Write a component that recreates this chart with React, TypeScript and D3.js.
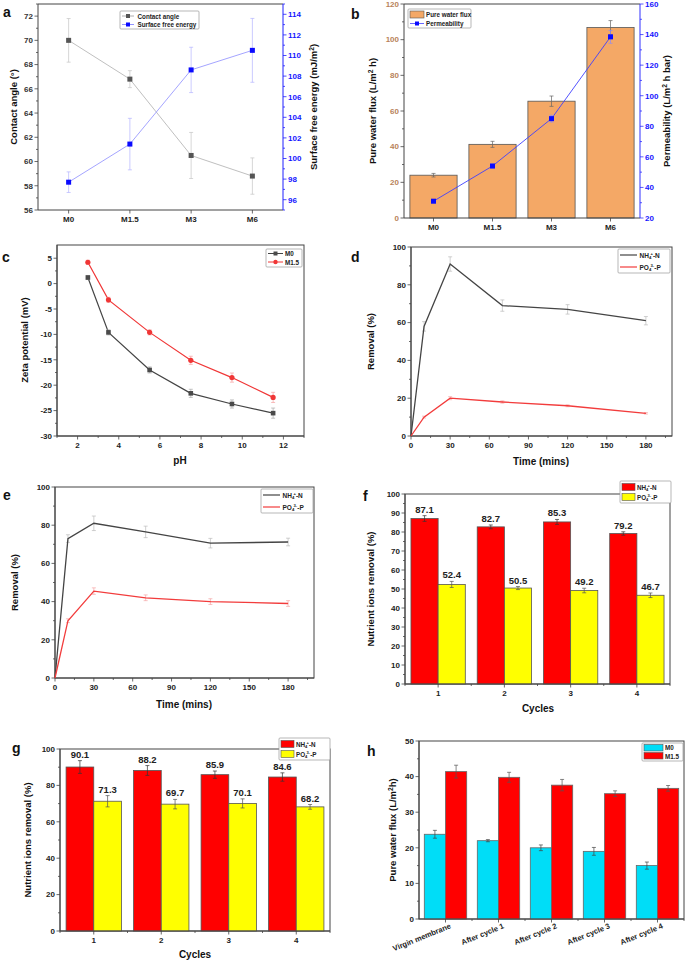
import React from "react";
import * as d3 from "d3";

const FONT = "'Liberation Sans', Arial, Helvetica, sans-serif";

// ---------- Panel a ----------
const aCats = ["M0", "M1.5", "M3", "M6"];
const aContact = [70, 66.8, 60.5, 58.8];
const aContactErr = [1.8, 0.7, 1.9, 1.5];
const aSFE = [97.7, 101.4, 108.6, 110.5];
const aSFEErr = [1.0, 2.5, 2.2, 3.1];

// ---------- Panel b ----------
const bCats = ["M0", "M1.5", "M3", "M6"];
const bFlux = [24, 41.3, 65.5, 106.8];
const bFluxErr = [1, 1.7, 2.9, 3.9];
const bPerm = [31, 54, 85, 138.5];
const bPermErr = [1, 1.3, 2.2, 4.2];

// ---------- Panel c ----------
const cPH = [2.5, 3.5, 5.5, 7.5, 9.5, 11.5];
const cM0 = [1.2, -9.6, -17, -21.6, -23.7, -25.5];
const cM0Err = [0.4, 0.5, 0.6, 0.8, 0.8, 1.0];
const cM15 = [4.2, -3.2, -9.6, -15.1, -18.5, -22.4];
const cM15Err = [0.4, 0.5, 0.5, 0.8, 0.9, 1.0];

// ---------- Panel d ----------
const dTime = [0, 10, 30, 70, 120, 180];
const dNH4 = [0, 58, 91, 69, 67, 61];
const dNH4Err = [0, 2.5, 3.8, 3, 2.5, 2.2];
const dPO4 = [0, 10, 20, 18, 16, 12];
const dPO4Err = [0, 0.5, 0.8, 0.6, 0.5, 0.4];

// ---------- Panel e ----------
const eTime = [0, 10, 30, 70, 120, 180];
const eNH4 = [0, 73, 81, 76.5, 70.6, 71.2];
const eNH4Err = [0, 2, 3.8, 3, 2.5, 2];
const ePO4 = [0, 30, 45.5, 42, 40, 39];
const ePO4Err = [0, 1, 1.7, 1.5, 1.5, 1.5];

// ---------- Panel f ----------
const fCycles = ["1", "2", "3", "4"];
const fNH4 = [87.1, 82.7, 85.3, 79.2];
const fNH4Err = [1.5, 1, 1.3, 0.9];
const fPO4 = [52.4, 50.5, 49.2, 46.7];
const fPO4Err = [1.6, 0.8, 1.2, 1.2];

// ---------- Panel g ----------
const gCycles = ["1", "2", "3", "4"];
const gNH4 = [90.1, 88.2, 85.9, 84.6];
const gNH4Err = [3.5, 2.7, 2, 2.3];
const gPO4 = [71.3, 69.7, 70.1, 68.2];
const gPO4Err = [3.1, 2.6, 2.5, 1.3];

// ---------- Panel h ----------
const hCats = ["Virgin membrane", "After cycle 1", "After cycle 2", "After cycle 3", "After cycle 4"];
const hM0 = [23.8, 22, 20, 19, 15];
const hM0Err = [1.1, 0.3, 0.8, 1.1, 1];
const hM15 = [41.4, 39.8, 37.6, 35.2, 36.7];
const hM15Err = [1.8, 1.4, 1.6, 0.8, 0.8];

const AX = "#444";

function YAxis({ scale, x, ticks, minor, side, color = "#222", lineColor = AX, fs = 8 }: any) {
  const dir = side === "left" ? -1 : 1;
  const r = scale.range();
  return (
    <g>
      <line x1={x} x2={x} y1={r[0]} y2={r[1]} stroke={lineColor} strokeWidth={1} />
      {minor.map((v: number) => (
        <line key={"m" + v} x1={x} x2={x + dir * 2} y1={scale(v)} y2={scale(v)} stroke={lineColor} strokeWidth={0.8} />
      ))}
      {ticks.map((v: number) => (
        <g key={v}>
          <line x1={x} x2={x + dir * 3.5} y1={scale(v)} y2={scale(v)} stroke={lineColor} strokeWidth={0.8} />
          <text
            x={x + dir * 5}
            y={scale(v)}
            dy="0.35em"
            textAnchor={side === "left" ? "end" : "start"}
            fontSize={fs}
            fontWeight="bold"
            fill={color}
            fontFamily={FONT}
          >
            {v}
          </text>
        </g>
      ))}
    </g>
  );
}

function XAxis({ scale, y, ticks, minor, labels, fs = 8, color = "#222", lineColor = AX, noLabels = false }: any) {
  const r = scale.range();
  return (
    <g>
      <line x1={r[0]} x2={r[1]} y1={y} y2={y} stroke={lineColor} strokeWidth={1} />
      {minor.map((v: number) => (
        <line key={"m" + v} x1={scale(v)} x2={scale(v)} y1={y} y2={y + 2} stroke={lineColor} strokeWidth={0.8} />
      ))}
      {ticks.map((v: number, i: number) => (
        <g key={v}>
          <line x1={scale(v)} x2={scale(v)} y1={y} y2={y + 3.5} stroke={lineColor} strokeWidth={0.8} />
          {!noLabels && (
            <text x={scale(v)} y={y + 12} textAnchor="middle" fontSize={fs} fontWeight="bold" fill={color} fontFamily={FONT}>
              {labels ? labels[i] : v}
            </text>
          )}
        </g>
      ))}
    </g>
  );
}

function Err({ x, y0, y1, w = 2, color, sw = 0.7 }: any) {
  return (
    <g stroke={color} strokeWidth={sw}>
      <line x1={x} x2={x} y1={y0} y2={y1} />
      <line x1={x - w} x2={x + w} y1={y0} y2={y0} />
      <line x1={x - w} x2={x + w} y1={y1} y2={y1} />
    </g>
  );
}

function Title({ x, y, rotate = false, children, fs = 9.5, fill = "#111" }: any) {
  return (
    <text
      x={x}
      y={y}
      textAnchor="middle"
      fontSize={fs}
      fontWeight="bold"
      fill={fill}
      fontFamily={FONT}
      transform={rotate ? `rotate(-90 ${x} ${y})` : undefined}
    >
      {children}
    </text>
  );
}

function Letter({ x, y, t }: any) {
  return (
    <text x={x} y={y} fontSize={14} fontWeight="bold" fontFamily={FONT} fill="#111">
      {t}
    </text>
  );
}

const NH4Label = () => (
  <>
    NH<tspan dy={1.5} fontSize="65%">4</tspan>
    <tspan dy={-4} dx={-0.8} fontSize="65%">+</tspan>
    <tspan dy={2.5}>-N</tspan>
  </>
);
const PO4Label = () => (
  <>
    PO<tspan dy={1.5} fontSize="65%">4</tspan>
    <tspan dy={-4} dx={-0.8} fontSize="65%">3-</tspan>
    <tspan dy={2.5}>-P</tspan>
  </>
);

function Frame({ x0, x1, y0, y1, stroke = AX }: any) {
  return <rect x={x0} y={y0} width={x1 - x0} height={y1 - y0} fill="none" stroke={stroke} strokeWidth={1} />;
}

function LegendBox({ x, y, w, h }: any) {
  return <rect x={x} y={y} width={w} height={h} fill="#fff" stroke="#999" strokeWidth={0.7} rx={1} />;
}

// ---------------- Panels ----------------
function PanelA() {
  const x0 = 38, x1 = 283, y0 = 4, y1 = 210;
  const xs = d3.scaleLinear().domain([-0.5, 3.5]).range([x0, x1]);
  const yl = d3.scaleLinear().domain([56, 73]).range([y1, y0]);
  const yr = d3.scaleLinear().domain([95, 115]).range([y1, y0]);
  const idx = aCats.map((_, i) => i);
  const lineL = d3.line<number>().x((i) => xs(i)).y((i) => yl(aContact[i]));
  const lineR = d3.line<number>().x((i) => xs(i)).y((i) => yr(aSFE[i]));
  return (
    <g>
      <line x1={x0} x2={x1} y1={y0} y2={y0} stroke={AX} />
      <XAxis scale={xs} y={y1} ticks={idx} minor={[]} labels={aCats} />
      <YAxis scale={yl} x={x0} side="left" ticks={d3.range(56, 73, 2)} minor={d3.range(57, 74, 2)} color="#333" />
      <YAxis scale={yr} x={x1} side="right" ticks={d3.range(96, 115, 2)} minor={d3.range(95, 116, 2)} color="#1515ff" lineColor="#2020ff" />
      <path d={lineL(idx) || ""} fill="none" stroke="#b8b8b8" strokeWidth={0.9} />
      <path d={lineR(idx) || ""} fill="none" stroke="#9a9aff" strokeWidth={0.9} />
      {idx.map((i) => (
        <g key={i}>
          <Err x={xs(i)} y0={yl(aContact[i] - aContactErr[i])} y1={yl(aContact[i] + aContactErr[i])} color="#c4c4c4" />
          <Err x={xs(i)} y0={yr(aSFE[i] - aSFEErr[i])} y1={yr(aSFE[i] + aSFEErr[i])} color="#b5b5ff" />
          <rect x={xs(i) - 2.5} y={yl(aContact[i]) - 2.5} width={5} height={5} fill="#555" />
          <rect x={xs(i) - 2.5} y={yr(aSFE[i]) - 2.5} width={5} height={5} fill="#0a0aff" />
        </g>
      ))}
      <LegendBox x={120} y={11} w={79} h={18} />
      <line x1={122} x2={134} y1={16} y2={16} stroke="#999" strokeWidth={0.8} />
      <rect x={126} y={14} width={4} height={4} fill="#555" />
      <line x1={122} x2={134} y1={24.5} y2={24.5} stroke="#7777ff" strokeWidth={0.8} />
      <rect x={126} y={22.5} width={4} height={4} fill="#0a0aff" />
      <text x={137.5} y={18.5} fontSize={6.3} fontWeight="bold" fontFamily={FONT} fill="#222">Contact angle</text>
      <text x={137.5} y={27} fontSize={6.3} fontWeight="bold" fontFamily={FONT} fill="#222">Surface free energy</text>
      <Title x={17} y={107} rotate>Contact angle (°)</Title>
      <Title x={317} y={107} rotate>
        Surface free energy (mJ/m<tspan dy={-3.5} fontSize="70%">2</tspan>
        <tspan dy={3.5}>)</tspan>
      </Title>
      <Letter x={3} y={17} t="a" />
    </g>
  );
}

function PanelB() {
  const x0 = 404, x1 = 640, y0 = 4, y1 = 218;
  const xs = d3.scaleLinear().domain([-0.5, 3.5]).range([x0, x1]);
  const yl = d3.scaleLinear().domain([0, 120]).range([y1, y0]);
  const yr = d3.scaleLinear().domain([20, 160]).range([y1, y0]);
  const idx = bCats.map((_, i) => i);
  const bw = (xs(1) - xs(0)) * 0.8;
  const line = d3.line<number>().x((i) => xs(i)).y((i) => yr(bPerm[i]));
  return (
    <g>
      <line x1={x0} x2={x1} y1={y0} y2={y0} stroke={AX} />
      {idx.map((i) => (
        <rect key={i} x={xs(i) - bw / 2} y={yl(bFlux[i])} width={bw} height={y1 - yl(bFlux[i])} fill="#f4a866" stroke="#555" strokeWidth={0.8} />
      ))}
      {idx.map((i) => (
        <Err key={i} x={xs(i)} y0={yl(bFlux[i] - bFluxErr[i])} y1={yl(bFlux[i] + bFluxErr[i])} color="#666" />
      ))}
      <XAxis scale={xs} y={y1} ticks={idx} minor={[]} labels={bCats} />
      <YAxis scale={yl} x={x0} side="left" ticks={d3.range(0, 121, 20)} minor={d3.range(10, 120, 20)} color="#b8835a" />
      <YAxis scale={yr} x={x1} side="right" ticks={d3.range(20, 161, 20)} minor={d3.range(30, 160, 20)} color="#1515ff" lineColor="#3030ff" />
      <path d={line(idx) || ""} fill="none" stroke="#4040ff" strokeWidth={0.9} />
      {idx.map((i) => (
        <g key={i}>
          <Err x={xs(i)} y0={yr(bPerm[i] - bPermErr[i])} y1={yr(bPerm[i] + bPermErr[i])} color="#8a8aff" />
          <rect x={xs(i) - 2.5} y={yr(bPerm[i]) - 2.5} width={5} height={5} fill="#0a0aff" />
        </g>
      ))}
      <LegendBox x={408} y={9} w={63} h={19} />
      <rect x={410} y={11} width={14} height={7} fill="#f4a866" stroke="#555" strokeWidth={0.6} />
      <line x1={410} x2={424} y1={23.5} y2={23.5} stroke="#4040ff" strokeWidth={0.8} />
      <rect x={415} y={21.5} width={4} height={4} fill="#0a0aff" />
      <text x={426} y={17} fontSize={6.3} fontWeight="bold" fontFamily={FONT} fill="#222">Pure water flux</text>
      <text x={426} y={26} fontSize={6.3} fontWeight="bold" fontFamily={FONT} fill="#222">Permeability</text>
      <Title x={376} y={111} rotate>
        Pure water flux (L/m<tspan dy={-3.5} fontSize="70%">2</tspan>
        <tspan dy={3.5}> h)</tspan>
      </Title>
      <Title x={670} y={111} rotate>
        Permeability (L/m<tspan dy={-3.5} fontSize="70%">2</tspan>
        <tspan dy={3.5}> h bar)</tspan>
      </Title>
      <Letter x={351} y={19} t="b" />
    </g>
  );
}

function PanelC() {
  const x0 = 57, x1 = 304, y0 = 245, y1 = 436;
  const xs = d3.scaleLinear().domain([1, 13]).range([x0, x1]);
  const ys = d3.scaleLinear().domain([-30, 7.6]).range([y1, y0]);
  const idx = cPH.map((_, i) => i);
  const l0 = d3.line<number>().x((i) => xs(cPH[i])).y((i) => ys(cM0[i]));
  const l1 = d3.line<number>().x((i) => xs(cPH[i])).y((i) => ys(cM15[i]));
  return (
    <g>
      <Frame x0={x0} x1={x1} y0={y0} y1={y1} />
      <XAxis scale={xs} y={y1} ticks={d3.range(2, 13, 2)} minor={d3.range(1, 14, 2)} />
      <YAxis scale={ys} x={x0} side="left" ticks={d3.range(-30, 6, 5)} minor={d3.range(-27.5, 7, 5)} />
      <path d={l0(idx) || ""} fill="none" stroke="#444" strokeWidth={1.2} />
      <path d={l1(idx) || ""} fill="none" stroke="#f03636" strokeWidth={1.2} />
      {idx.map((i) => (
        <g key={i}>
          <Err x={xs(cPH[i])} y0={ys(cM0[i] - cM0Err[i])} y1={ys(cM0[i] + cM0Err[i])} color="#aaa" />
          <Err x={xs(cPH[i])} y0={ys(cM15[i] - cM15Err[i])} y1={ys(cM15[i] + cM15Err[i])} color="#f5a0a0" />
          <rect x={xs(cPH[i]) - 2.3} y={ys(cM0[i]) - 2.3} width={4.6} height={4.6} fill="#4a4a4a" />
          <circle cx={xs(cPH[i])} cy={ys(cM15[i])} r={2.6} fill="#f03636" />
        </g>
      ))}
      <LegendBox x={266} y={249} w={36} h={18} />
      <line x1={268} x2={283} y1={253.5} y2={253.5} stroke="#444" strokeWidth={1} />
      <rect x={273.5} y={251.5} width={4} height={4} fill="#4a4a4a" />
      <line x1={268} x2={283} y1={262} y2={262} stroke="#f03636" strokeWidth={1} />
      <circle cx={275.5} cy={262} r={2.2} fill="#f03636" />
      <text x={285} y={256} fontSize={6.3} fontWeight="bold" fontFamily={FONT} fill="#222">M0</text>
      <text x={285} y={264.5} fontSize={6.3} fontWeight="bold" fontFamily={FONT} fill="#222">M1.5</text>
      <Title x={28} y={340} rotate>Zeta potential (mV)</Title>
      <Title x={180} y={464} fs={10}>pH</Title>
      <Letter x={2} y={262} t="c" />
    </g>
  );
}

function TimePanel({ x0, x1, y0, y1, time, nh4, nh4e, po4, po4e, lx, ly, letter, lettX, lettY, ytx, xtx, xty }: any) {
  const xs = d3.scaleLinear().domain([0, 200]).range([x0, x1]);
  const ys = d3.scaleLinear().domain([0, 100]).range([y1, y0]);
  const idx = time.map((_: number, i: number) => i);
  const la = d3.line<number>().x((i) => xs(time[i])).y((i) => ys(nh4[i]));
  const lb = d3.line<number>().x((i) => xs(time[i])).y((i) => ys(po4[i]));
  return (
    <g>
      <Frame x0={x0} x1={x1} y0={y0} y1={y1} />
      <XAxis scale={xs} y={y1} ticks={d3.range(0, 181, 30)} minor={d3.range(15, 200, 30)} />
      <YAxis scale={ys} x={x0} side="left" ticks={d3.range(0, 101, 20)} minor={d3.range(10, 100, 20)} />
      {idx.map((i: number) =>
        i > 0 ? (
          <g key={i}>
            <Err x={xs(time[i])} y0={ys(nh4[i] - nh4e[i])} y1={ys(nh4[i] + nh4e[i])} color="#bbb" />
            <Err x={xs(time[i])} y0={ys(po4[i] - po4e[i])} y1={ys(po4[i] + po4e[i])} color="#f5a5a5" />
          </g>
        ) : null
      )}
      <path d={la(idx) || ""} fill="none" stroke="#444" strokeWidth={1.3} />
      <path d={lb(idx) || ""} fill="none" stroke="#f23c3c" strokeWidth={1.3} />
      <LegendBox x={lx} y={ly} w={52} h={24} />
      <line x1={lx + 2} x2={lx + 19} y1={ly + 6} y2={ly + 6} stroke="#444" strokeWidth={1.2} />
      <line x1={lx + 2} x2={lx + 19} y1={ly + 18} y2={ly + 18} stroke="#f23c3c" strokeWidth={1.2} />
      <text x={lx + 21.5} y={ly + 8.5} fontSize={6.5} fontWeight="bold" fontFamily={FONT} fill="#222"><NH4Label /></text>
      <text x={lx + 21.5} y={ly + 20.5} fontSize={6.5} fontWeight="bold" fontFamily={FONT} fill="#222"><PO4Label /></text>
      <Title x={ytx} y={(y0 + y1) / 2} rotate>Removal (%)</Title>
      <Title x={xtx} y={xty} fs={10}>Time (mins)</Title>
      <Letter x={lettX} y={lettY} t={letter} />
    </g>
  );
}

function CyclePanel({ x0, x1, y0, y1, cats, nh4, nh4e, po4, po4e, yStep, lx, ly, letter, lettX, lettY, ytx, xtx, xty }: any) {
  const xs = d3.scaleLinear().domain([0.5, cats.length + 0.5]).range([x0, x1]);
  const ys = d3.scaleLinear().domain([0, 100]).range([y1, y0]);
  const idx = cats.map((_: string, i: number) => i);
  const bw = (xs(2) - xs(1)) * 0.41;
  return (
    <g>
      <Frame x0={x0} x1={x1} y0={y0} y1={y1} />
      {idx.map((i: number) => {
        const c = xs(i + 1);
        return (
          <g key={i}>
            <rect x={c - bw} y={ys(nh4[i])} width={bw} height={y1 - ys(nh4[i])} fill="#ff0000" stroke="#555" strokeWidth={0.8} />
            <rect x={c} y={ys(po4[i])} width={bw} height={y1 - ys(po4[i])} fill="#ffff00" stroke="#555" strokeWidth={0.8} />
            <Err x={c - bw / 2} y0={ys(nh4[i] - nh4e[i])} y1={ys(nh4[i] + nh4e[i])} color="#333" />
            <Err x={c + bw / 2} y0={ys(po4[i] - po4e[i])} y1={ys(po4[i] + po4e[i])} color="#555" />
            <text x={c - bw / 2} y={ys(nh4[i] + nh4e[i]) - 3} textAnchor="middle" fontSize={9.5} fontWeight="bold" fontFamily={FONT} fill="#222">
              {nh4[i].toFixed(1)}
            </text>
            <text x={c + bw / 2} y={ys(po4[i] + po4e[i]) - 3} textAnchor="middle" fontSize={9.5} fontWeight="bold" fontFamily={FONT} fill="#222">
              {po4[i].toFixed(1)}
            </text>
          </g>
        );
      })}
      <XAxis scale={xs} y={y1} ticks={idx.map((i: number) => i + 1)} minor={idx.map((i: number) => i + 1.5).concat([0.5])} labels={cats} />
      <YAxis scale={ys} x={x0} side="left" ticks={d3.range(0, 101, yStep)} minor={d3.range(yStep / 2, 100, yStep)} />
      <LegendBox x={lx} y={ly} w={51} h={22} />
      <rect x={lx + 2} y={ly + 2.5} width={13} height={7} fill="#ff0000" stroke="#555" strokeWidth={0.6} />
      <rect x={lx + 2} y={ly + 12.5} width={13} height={7} fill="#ffff00" stroke="#555" strokeWidth={0.6} />
      <text x={lx + 17} y={ly + 8.5} fontSize={6.3} fontWeight="bold" fontFamily={FONT} fill="#222"><NH4Label /></text>
      <text x={lx + 17} y={ly + 18.5} fontSize={6.3} fontWeight="bold" fontFamily={FONT} fill="#222"><PO4Label /></text>
      <Title x={ytx} y={(y0 + y1) / 2} rotate>Nutrient ions removal (%)</Title>
      <Title x={xtx} y={xty} fs={10}>Cycles</Title>
      <Letter x={lettX} y={lettY} t={letter} />
    </g>
  );
}

function PanelH() {
  const x0 = 419, x1 = 684, y0 = 741, y1 = 919;
  const xs = d3.scaleLinear().domain([-0.5, hCats.length - 0.5]).range([x0, x1]);
  const ys = d3.scaleLinear().domain([0, 50]).range([y1, y0]);
  const idx = hCats.map((_, i) => i);
  const bw = (xs(1) - xs(0)) * 0.4;
  return (
    <g>
      <Frame x0={x0} x1={x1} y0={y0} y1={y1} />
      {idx.map((i) => {
        const c = xs(i);
        return (
          <g key={i}>
            <rect x={c - bw} y={ys(hM0[i])} width={bw} height={y1 - ys(hM0[i])} fill="#00ddf7" stroke="#666" strokeWidth={0.8} />
            <rect x={c} y={ys(hM15[i])} width={bw} height={y1 - ys(hM15[i])} fill="#ff0000" stroke="#666" strokeWidth={0.8} />
            <Err x={c - bw / 2} y0={ys(hM0[i] - hM0Err[i])} y1={ys(hM0[i] + hM0Err[i])} color="#444" />
            <Err x={c + bw / 2} y0={ys(hM15[i] - hM15Err[i])} y1={ys(hM15[i] + hM15Err[i])} color="#555" />
          </g>
        );
      })}
      <XAxis scale={xs} y={y1} ticks={idx} minor={idx.map((i) => i + 0.5)} noLabels />
      {idx.map((i) => (
        <text
          key={i}
          x={xs(i) + 6}
          y={y1 + 9}
          textAnchor="end"
          fontSize={7.6}
          fontWeight="bold"
          fontFamily={FONT}
          fill="#222"
          transform={`rotate(-22 ${xs(i) + 6} ${y1 + 9})`}
        >
          {hCats[i]}
        </text>
      ))}
      <YAxis scale={ys} x={x0} side="left" ticks={d3.range(0, 51, 10)} minor={d3.range(5, 50, 10)} />
      <LegendBox x={642} y={743} w={41} h={18} />
      <rect x={644} y={744.5} width={19} height={6.5} fill="#00ddf7" stroke="#555" strokeWidth={0.6} />
      <rect x={644} y={752.5} width={19} height={6.5} fill="#ff0000" stroke="#555" strokeWidth={0.6} />
      <text x={665} y={750} fontSize={6.3} fontWeight="bold" fontFamily={FONT} fill="#222">M0</text>
      <text x={665} y={758.5} fontSize={6.3} fontWeight="bold" fontFamily={FONT} fill="#222">M1.5</text>
      <Title x={396} y={830} rotate>
        Pure water flux (L/m<tspan dy={-3.5} fontSize="70%">2</tspan>
        <tspan dy={3.5}>h)</tspan>
      </Title>
      <Letter x={367} y={756} t="h" />
    </g>
  );
}

export default function App() {
  return (
    <div style={{ position: "absolute", left: 0, top: 0 }}>
      <svg width={685} height={960} viewBox="0 0 685 960" style={{ display: "block", background: "#fff" }}>
        <rect x={0} y={0} width={685} height={960} fill="#fff" />
        <PanelA />
        <PanelB />
        <PanelC />
        <TimePanel
          x0={411} x1={672} y0={247} y1={436}
          time={dTime} nh4={dNH4} nh4e={dNH4Err} po4={dPO4} po4e={dPO4Err}
          lx={618} ly={249} letter="d" lettX={351} lettY={262} ytx={374} xtx={541} xty={465}
        />
        <TimePanel
          x0={55} x1={314} y0={487} y1={678}
          time={eTime} nh4={eNH4} nh4e={eNH4Err} po4={ePO4} po4e={ePO4Err}
          lx={261} ly={489} letter="e" lettX={3} lettY={500} ytx={18} xtx={184} xty={708}
        />
        <CyclePanel
          x0={405} x1={670} y0={494} y1={684}
          cats={fCycles} nh4={fNH4} nh4e={fNH4Err} po4={fPO4} po4e={fPO4Err} yStep={10}
          lx={620} ly={481} letter="f" lettX={363} lettY={501} ytx={374} xtx={538} xty={712}
        />
        <CyclePanel
          x0={60} x1={330} y0={749} y1={931}
          cats={gCycles} nh4={gNH4} nh4e={gNH4Err} po4={gPO4} po4e={gPO4Err} yStep={20}
          lx={279} ly={738} letter="g" lettX={12} lettY={753} ytx={31} xtx={195} xty={958}
        />
        <PanelH />
      </svg>
    </div>
  );
}
